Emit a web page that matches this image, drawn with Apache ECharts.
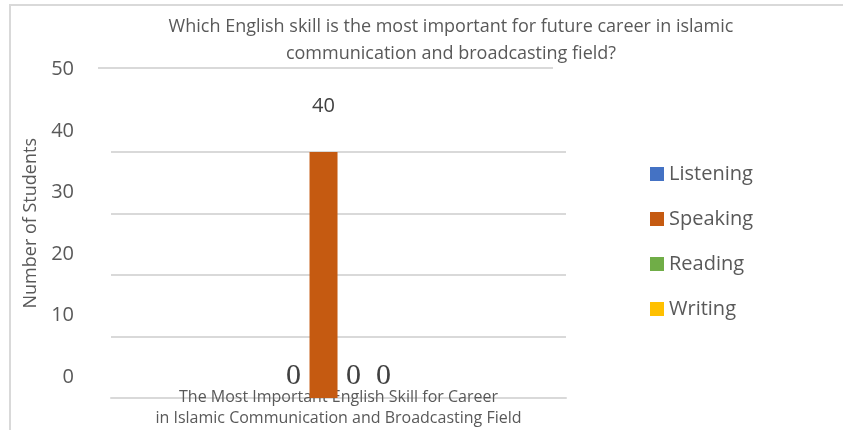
<!DOCTYPE html>
<html>
<head>
<meta charset="utf-8">
<script src="https://cdn.jsdelivr.net/npm/echarts@6/dist/echarts.min.js"></script>
<style>
  html, body { margin: 0; padding: 0; background: #fff; }
  #chart { width: 843px; height: 430px; }
</style>
</head>
<body>
<div id="chart"></div>
<script>
const categories = ['The Most Important English Skill for Career\nin Islamic Communication and Broadcasting Field'];
const skills = ['Listening', 'Speaking', 'Reading', 'Writing'];
const students = [0, 40, 0, 0];
const colors = ['#4472C4', '#C55A11', '#70AD47', '#FFC000'];
const yTicks = [0, 10, 20, 30, 40, 50];

const chart = echarts.init(document.getElementById('chart'), null, { renderer: 'canvas' });

const series = skills.map((name, i) => ({
  name: name,
  type: 'bar',
  data: [students[i]],
  barWidth: 28,
  barGap: '7%',
  itemStyle: { color: colors[i] },
  label: students[i] > 0
    ? { show: true, position: 'top', distance: 36, fontSize: 20, color: '#404040', fontFamily: 'Open Sans' }
    : { show: true, position: 'top', distance: 7, fontSize: 30, color: '#404040', fontFamily: 'Liberation Serif' }
}));

chart.setOption({
  animation: false,
  backgroundColor: '#fff',
  title: {
    text: 'Which English skill is the most important for future career in islamic\ncommunication and broadcasting field?',
    left: 446,
    top: 8,
    textAlign: 'center',
    textStyle: { fontSize: 18, fontWeight: 'normal', color: '#595959', fontFamily: 'Open Sans', lineHeight: 27 }
  },
  legend: {
    orient: 'vertical',
    left: 645,
    top: 159,
    itemWidth: 14,
    itemHeight: 14,
    itemGap: 25,
    icon: 'rect',
    textStyle: { fontSize: 20, color: '#595959', fontFamily: 'Open Sans' },
    data: skills
  },
  grid: { left: 111, right: 277, top: 90.5, bottom: 32, containLabel: false },
  xAxis: {
    type: 'category',
    data: categories,
    axisLine: { show: true, lineStyle: { color: '#d9d9d9', width: 2 } },
    axisTick: { show: false },
    axisLabel: { margin: -11, fontSize: 16, color: '#595959', fontFamily: 'Open Sans', lineHeight: 21 }
  },
  yAxis: {
    type: 'value',
    min: yTicks[0],
    max: yTicks[yTicks.length - 1],
    interval: 10,
    name: 'Number of Students',
    nameLocation: 'middle',
    nameGap: 70,
    nameRotate: 90,
    nameTextStyle: { fontSize: 18, color: '#595959', fontFamily: 'Open Sans', padding: [0, 0, 0, 42] },
    axisLine: { show: false },
    axisTick: { show: false },
    axisLabel: { margin: 37, fontSize: 20, color: '#595959', fontFamily: 'Open Sans', verticalAlign: 'bottom', lineHeight: 42 },
    splitLine: { show: true, showMaxLine: false, lineStyle: { color: '#d9d9d9', width: 2 } }
  },
  graphic: [
    { type: 'rect', shape: { x: 10, y: 5, width: 900, height: 500 }, style: { fill: 'none', stroke: '#d9d9d9', lineWidth: 2 }, silent: true },
    { type: 'line', shape: { x1: 98, y1: 68, x2: 553, y2: 68 }, style: { stroke: '#d9d9d9', lineWidth: 2 }, silent: true }
  ],
  series: series
});
</script>
</body>
</html>
